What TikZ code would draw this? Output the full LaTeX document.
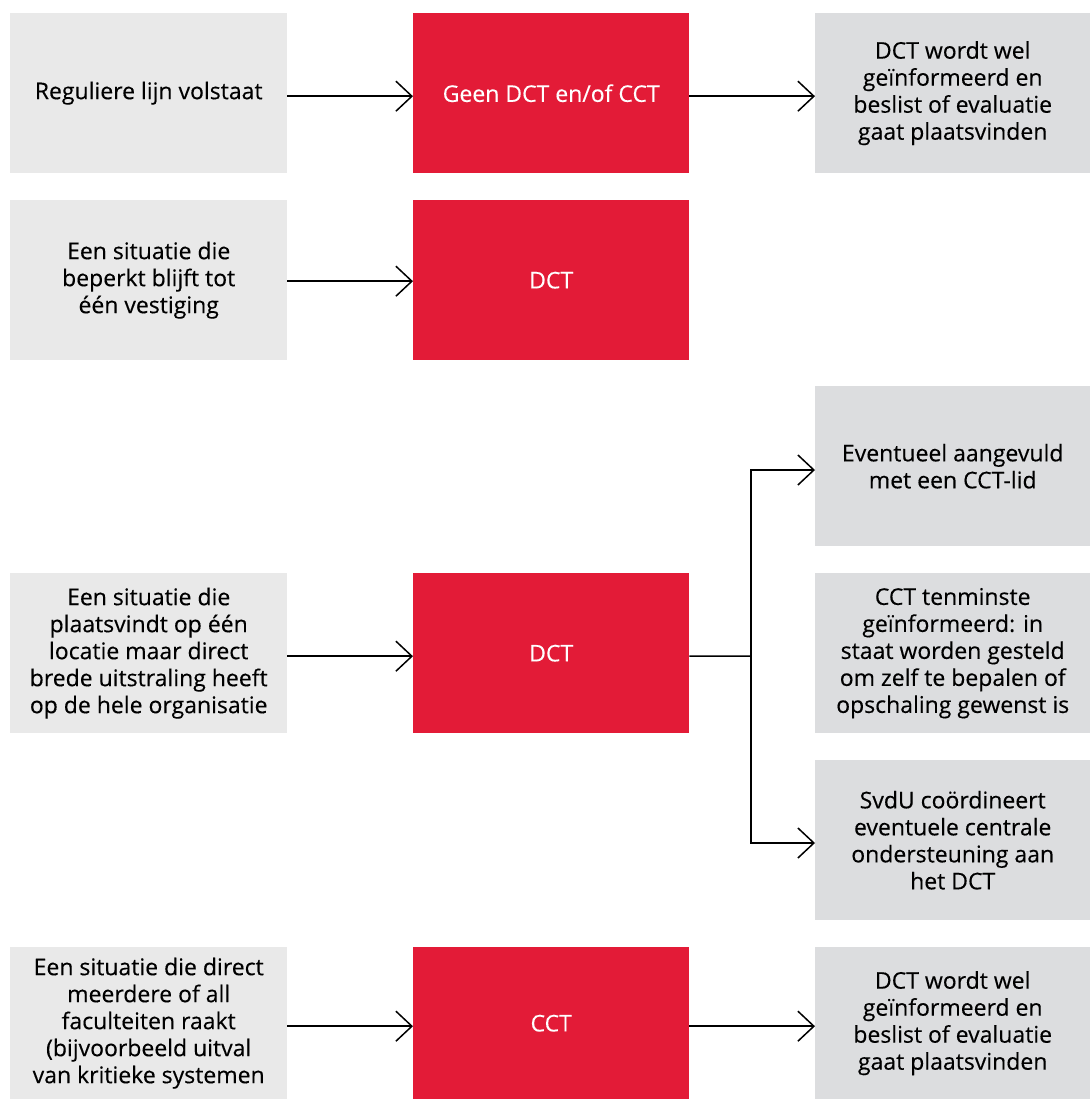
\documentclass[tikz,border=0pt]{standalone}
\usepackage{fontspec}
\setmainfont{Open Sans}[FakeBold=0.3]
\usetikzlibrary{arrows.meta}
\definecolor{lbox}{HTML}{E9E9E9}
\definecolor{rbox}{HTML}{DCDDDF}
\definecolor{redbox}{HTML}{E31B37}
\tikzset{
  base/.style={minimum width=277pt, inner sep=0pt, align=center, font=\fontsize{23pt}{27pt}\selectfont, anchor=north west},
  lft/.style={base, fill=lbox, text=black},
  rgt/.style={base, fill=rbox, text=black, minimum width=276pt},
  red/.style={base, fill=redbox, text=white, minimum width=276pt},
  conn/.style={line width=1.5pt, black, -{Straight Barb[length=16pt,width=30pt,line width=1.5pt]}},
  plain/.style={line width=1.5pt, black}
}
\begin{document}
\begin{tikzpicture}[x=1pt,y=-1pt]
\useasboundingbox (0,0) rectangle (1090,1099);
% row 1
\node[lft, minimum height=160pt] (l1) at (10,13) {Reguliere lijn volstaat};
\node[red, minimum height=160pt] (r1) at (413,13) {Geen DCT en/of CCT};
\node[rgt, minimum height=160pt, minimum width=275pt] (o1) at (815,13) {DCT wordt wel\\geïnformeerd en\\beslist of evaluatie\\gaat plaatsvinden};
% row 2
\node[lft, minimum height=160pt] (l2) at (10,200) {Een situatie die\\beperkt blijft tot\\één vestiging};
\node[red, minimum height=160pt] (r2) at (413,200) {DCT};
% row 3
\node[lft, minimum height=160pt] (l3) at (10,573) {Een situatie die\\plaatsvindt op één\\locatie maar direct\\brede uitstraling heeft\\op de hele organisatie};
\node[red, minimum height=160pt] (r3) at (413,573) {DCT};
\node[rgt, minimum height=160pt, minimum width=275pt] (o3a) at (815,386) {Eventueel aangevuld\\met een CCT-lid};
\node[rgt, minimum height=160pt, minimum width=275pt] (o3b) at (815,573) {CCT tenminste\\geïnformeerd: in\\staat worden gesteld\\om zelf te bepalen of\\opschaling gewenst is};
\node[rgt, minimum height=160pt, minimum width=275pt] (o3c) at (815,760) {SvdU coördineert\\eventuele centrale\\ondersteuning aan\\het DCT};
% row 4
\node[lft, minimum height=152pt] (l4) at (10,947) {Een situatie die direct\\meerdere of all\\faculteiten raakt\\(bijvoorbeeld uitval\\van kritieke systemen};
\node[red, minimum height=152pt] (r4) at (413,947) {CCT};
\node[rgt, minimum height=152pt, minimum width=275pt] (o4) at (815,947) {DCT wordt wel\\geïnformeerd en\\beslist of evaluatie\\gaat plaatsvinden};
% connectors
\draw[conn] ([yshift=-3pt]l1.east) -- ([yshift=-3pt]r1.west);
\draw[conn] ([yshift=-3pt]r1.east) -- ([yshift=-3pt]o1.west);
\draw[conn] ([yshift=-1pt]l2.east) -- ([yshift=-1pt]r2.west);
\draw[conn] ([yshift=-3pt]l3.east) -- ([yshift=-3pt]r3.west);
\coordinate (bj) at (751,656);
\draw[plain] ([yshift=-3pt]r3.east) -- (bj);
\draw[conn] (bj) |- (o3a.west |- 0,470);
\draw[conn] (bj) |- (o3c.west |- 0,843);
\draw[conn] ([yshift=-3pt]l4.east) -- ([yshift=-3pt]r4.west);
\draw[conn] ([yshift=-3pt]r4.east) -- ([yshift=-3pt]o4.west);
\end{tikzpicture}
\end{document}
